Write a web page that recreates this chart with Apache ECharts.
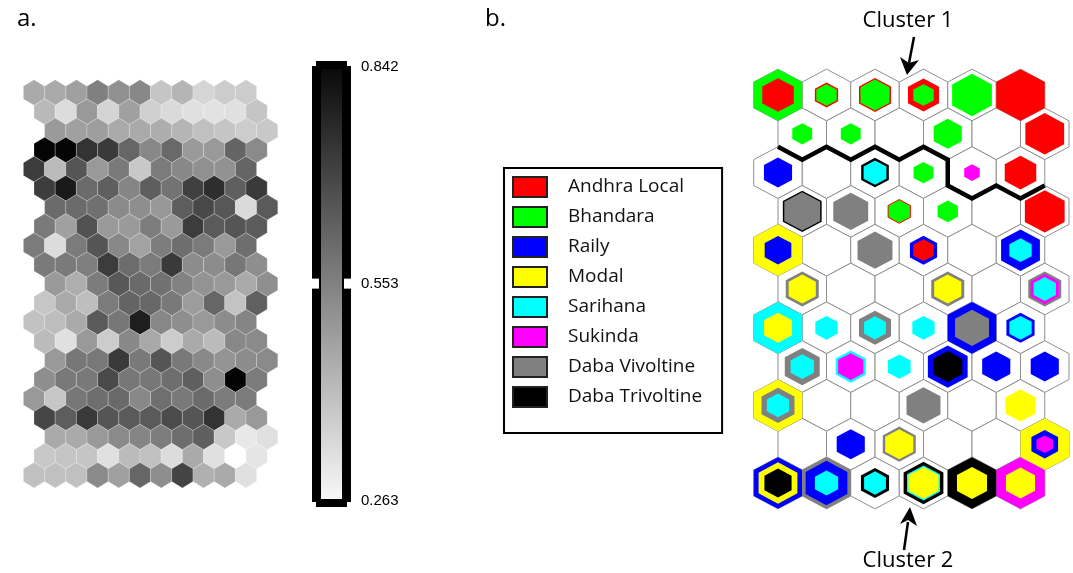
<!DOCTYPE html>
<html><head><meta charset="utf-8">
<script src="https://cdn.jsdelivr.net/npm/echarts@6/dist/echarts.min.js"></script>
<style>html,body{margin:0;padding:0;background:#fff}#c{width:1073px;height:573px}</style>
</head><body><div id="c"></div>
<script>
// ---------- a. U-matrix (21 rows x 11 columns) ----------
const uMin = 0.263, uMax = 0.842;
const colorbarTicks = [0.263, 0.553, 0.842];
const uRow00 = [0.456,0.456,0.479,0.551,0.513,0.533,0.395,0.431,0.358,0.379,0.379];
const uRow01 = [0.422,0.342,0.495,0.361,0.479,0.370,0.347,0.333,0.329,0.333,0.395];
const uRow02 = [0.492,0.479,0.483,0.456,0.456,0.449,0.431,0.406,0.395,0.379,0.388];
const uRow03 = [0.831,0.831,0.726,0.710,0.610,0.533,0.603,0.492,0.495,0.615,0.529];
const uRow04 = [0.706,0.417,0.649,0.495,0.565,0.388,0.563,0.533,0.515,0.510,0.613];
const uRow05 = [0.703,0.783,0.599,0.626,0.540,0.629,0.581,0.697,0.738,0.626,0.710];
const uRow06 = [0.599,0.599,0.588,0.529,0.520,0.497,0.631,0.678,0.644,0.347,0.638];
const uRow07 = [0.565,0.479,0.656,0.492,0.492,0.558,0.492,0.706,0.638,0.649,0.633];
const uRow08 = [0.563,0.342,0.563,0.649,0.533,0.474,0.558,0.592,0.563,0.495,0.592];
const uRow09 = [0.565,0.565,0.553,0.706,0.597,0.563,0.710,0.524,0.524,0.572,0.520];
const uRow10 = [0.492,0.447,0.560,0.642,0.601,0.585,0.547,0.508,0.495,0.456,0.517];
const uRow11 = [0.392,0.456,0.411,0.563,0.615,0.606,0.567,0.488,0.610,0.399,0.624];
const uRow12 = [0.401,0.413,0.456,0.638,0.572,0.774,0.535,0.520,0.495,0.524,0.540];
const uRow13 = [0.417,0.333,0.495,0.379,0.533,0.460,0.379,0.456,0.417,0.533,0.529];
const uRow14 = [0.495,0.572,0.570,0.710,0.567,0.649,0.567,0.531,0.506,0.524,0.529];
const uRow15 = [0.520,0.567,0.567,0.674,0.572,0.572,0.592,0.626,0.520,0.835,0.563];
const uRow16 = [0.495,0.392,0.572,0.592,0.603,0.533,0.590,0.567,0.599,0.563,0.563];
const uRow17 = [0.683,0.631,0.713,0.649,0.638,0.638,0.672,0.649,0.726,0.456,0.495];
const uRow18 = [0.456,0.456,0.495,0.529,0.540,0.558,0.592,0.626,0.388,0.315,0.333];
const uRow19 = [0.388,0.395,0.395,0.333,0.417,0.406,0.342,0.456,0.333,0.263,0.322];
const uRow20 = [0.406,0.406,0.406,0.529,0.479,0.610,0.520,0.688,0.442,0.456,0.333];
const uRows = [uRow00,uRow01,uRow02,uRow03,uRow04,uRow05,uRow06,uRow07,uRow08,uRow09,uRow10,
               uRow11,uRow12,uRow13,uRow14,uRow15,uRow16,uRow17,uRow18,uRow19,uRow20];
const uRowShift = [0, 0.5, 1, 0.5];

// ---------- b. hit map (11 rows x 6 columns), [row, col, relative marker size] ----------
const breeds = ['Andhra Local','Bhandara','Raily','Modal','Sarihana','Sukinda','Daba Vivoltine','Daba Trivoltine'];
const breedColors = ['#ff0000','#00ff00','#0000ff','#ffff00','#00ffff','#ff00ff','#808080','#000000'];
const andhraLocal   = [[0,0,0.65],[0,1,0.48],[0,2,0.66],[0,3,0.64],[0,5,1.0],[1,5,0.8],[2,5,0.65],[3,2,0.48],[3,5,0.82],[4,3,0.42]];
const bhandara      = [[0,0,1.0],[0,1,0.42],[0,2,0.6],[0,3,0.42],[0,4,0.82],[1,0,0.41],[1,1,0.41],[1,3,0.58],[2,3,0.41],[3,2,0.44],[3,3,0.42]];
const raily         = [[2,0,0.58],[4,0,0.55],[4,3,0.56],[4,5,0.8],[6,4,1.0],[6,5,0.58],[7,3,0.82],[7,4,0.58],[7,5,0.58],[9,1,0.58],[9,5,0.55],[10,0,1.0],[10,1,0.86]];
const modal         = [[4,0,1.0],[5,0,0.56],[5,3,0.56],[6,0,0.58],[8,0,1.0],[8,5,0.62],[9,2,0.58],[9,5,1.0],[10,0,0.8],[10,3,0.62],[10,4,0.62],[10,5,0.6]];
const sarihana      = [[2,2,0.47],[4,5,0.46],[5,5,0.46],[6,0,1.0],[6,1,0.46],[6,2,0.45],[6,3,0.46],[6,5,0.46],[7,0,0.48],[7,1,0.62],[7,2,0.47],[8,0,0.46],[10,1,0.48],[10,2,0.45],[10,3,0.68]];
const sukinda       = [[2,4,0.32],[5,5,0.58],[7,1,0.52],[9,5,0.34],[10,5,1.0]];
const dabaVivoltine = [[3,0,0.74],[3,1,0.72],[4,2,0.72],[5,0,0.68],[5,3,0.68],[5,5,0.68],[6,2,0.66],[6,4,0.7],[7,0,0.72],[8,0,0.68],[8,3,0.7],[9,2,0.68],[10,1,1.0]];
const dabaTrivoltine= [[2,2,0.57],[3,0,0.8],[7,3,0.6],[10,0,0.56],[10,2,0.58],[10,3,0.82],[10,4,1.0]];
const breedHits = [andhraLocal,bhandara,raily,modal,sarihana,sukinda,dabaVivoltine,dabaTrivoltine];
const mapRows = 11, mapCols = 6;
// cluster border: [row, col, hex vertex index] (0 top, 1 upper-right, 2 lower-right, 3 bottom)
const clusterBoundary = [[2,0,0],[2,0,1],[2,1,0],[2,1,1],[2,2,0],[2,2,1],[2,3,0],[2,3,1],[2,3,2],[2,4,3],[2,4,2],[2,5,3],[2,5,2]];

// ---------- helpers ----------
const HEX = [[0,-2/3],[0.5,-1/3],[0.5,1/3],[0,2/3],[-0.5,1/3],[-0.5,-1/3]];
function hexPts(api, cx, cy, s){ return HEX.map(o => api.coord([cx + o[0]*s, cy + o[1]*s])); }

const uData = [];
uRows.forEach((row, r) => row.forEach((v, c) => uData.push([c + uRowShift[r % 4], r, v])));

const cellData = [];
for (let r = 0; r < mapRows; r++) for (let c = 0; c < mapCols; c++) cellData.push([c + (r % 2) * 0.5, r]);

const boundaryData = clusterBoundary.map(([r, c, k]) => [c + (r % 2) * 0.5 + HEX[k][0], r + HEX[k][1]]);

const FONT = 'Open Sans';
const series = [];
series.push({
  name: 'U-matrix', type: 'custom', xAxisIndex: 0, yAxisIndex: 0, data: uData, silent: true,
  renderItem(params, api){
    return {type:'polygon', shape:{points: hexPts(api, api.value(0), api.value(1), 1)},
      style:{fill: api.visual('color'), stroke:'rgba(255,255,255,0.28)', lineWidth:0.8}};
  }
});
series.push({
  name: 'colorbar', type: 'custom', xAxisIndex: 1, yAxisIndex: 1, data: [[0, uMin, uMax, colorbarTicks[1]]], silent: true,
  renderItem(params, api){
    const a = api.coord([0, uMax]), b = api.coord([1, uMin]), m = api.coord([0, api.value(3)]);
    const x0 = a[0], x1 = b[0], y0 = a[1], y1 = b[1], ym = m[1];
    return {type:'group', children:[
      {type:'rect', shape:{x:x0-5, y:y0-6, width:x1-x0+10, height:y1-y0+12}, style:{fill:'#000'}},
      {type:'rect', shape:{x:x0-9, y:y0-1, width:x1-x0+18, height:y1-y0+2}, style:{fill:'#000'}},
      {type:'rect', shape:{x:x0-10, y:ym-5, width:8, height:10}, style:{fill:'#fff'}},
      {type:'rect', shape:{x:x1+2, y:ym-5, width:8, height:10}, style:{fill:'#fff'}},
      {type:'rect', shape:{x:x0, y:y0+2, width:x1-x0, height:y1-y0-4},
        style:{fill: new echarts.graphic.LinearGradient(0,0,0,1,[{offset:0,color:'#0a0a0a'},{offset:1,color:'#f8f8f8'}])}}
    ]};
  }
});
series.push({
  name: 'cells', type: 'custom', xAxisIndex: 2, yAxisIndex: 2, data: cellData, silent: true, z: 1,
  renderItem(params, api){
    return {type:'polygon', shape:{points: hexPts(api, api.value(0), api.value(1), 1)},
      style:{fill:'#fff', stroke:'#8f8f8f', lineWidth:1}};
  }
});
breeds.forEach((name, i) => {
  series.push({
    name, type: 'custom', xAxisIndex: 2, yAxisIndex: 2, z: 2, silent: true,
    itemStyle: {color: breedColors[i]},
    data: breedHits[i].map(([r, c, s]) => [c + (r % 2) * 0.5, r, s]),
    renderItem(params, api){
      const s = api.value(2);
      return {type:'polygon', z2: Math.round((2 - s) * 100),
        shape:{points: hexPts(api, api.value(0), api.value(1), s)},
        style:{fill: breedColors[i]}};
    }
  });
});
series.push({
  name: 'cluster border', type: 'line', xAxisIndex: 2, yAxisIndex: 2, data: boundaryData, z: 3,
  symbol: 'none', silent: true, lineStyle: {color:'#000', width:4.5, join:'miter'}, animation:false
});

const hiddenAxis = (o) => Object.assign({type:'value', show:false, splitLine:{show:false}}, o);

const option = {
  animation: false,
  backgroundColor: '#fff',
  grid: [
    {left: 23.4, top: 73.4, width: 254.4, height: 420.9},
    {left: 321, top: 67, width: 21, height: 434},
    {left: 753.75, top: 56.2, width: 315.25, height: 465.6}
  ],
  xAxis: [
    hiddenAxis({gridIndex:0, min:-0.5, max:11.5}),
    hiddenAxis({gridIndex:1, min:0, max:1}),
    hiddenAxis({gridIndex:2, min:-0.5, max:6})
  ],
  yAxis: [
    hiddenAxis({gridIndex:0, min:-1, max:21, inverse:true}),
    {type:'value', gridIndex:1, min:uMin, max:uMax, position:'right',
      axisLine:{show:false}, axisTick:{show:false}, splitLine:{show:false},
      axisLabel:{customValues: colorbarTicks, margin: 19, color:'#000', fontSize:15,
        fontFamily:'Liberation Sans', formatter: v => v.toFixed(3)}},
    hiddenAxis({gridIndex:2, min:-1, max:11, inverse:true})
  ],
  visualMap: {type:'continuous', show:false, seriesIndex:0, dimension:2, min:uMin, max:uMax,
    inRange:{color:['#ffffff','#000000']}},
  legend: {
    orient:'vertical', left:504, top:168, itemWidth:34, itemHeight:20, itemGap:8,
    padding:[8,20,25,8], borderColor:'#000', borderWidth:2, selectedMode:false,
    textStyle:{fontFamily:FONT, fontSize:19, color:'#111', lineHeight:20, padding:[0,0,0,16]},
    data: breeds.map((n, i) => ({name:n, icon:'rect',
      itemStyle:{color:breedColors[i], borderColor:'#222', borderWidth:2}}))
  },
  graphic: [
    {type:'text', style:{x:17, y:19, text:'a.', fontFamily:FONT, fontSize:24, fill:'#000', verticalAlign:'middle'}},
    {type:'text', style:{x:485, y:19, text:'b.', fontFamily:FONT, fontSize:24, fill:'#000', verticalAlign:'middle'}},
    {type:'text', style:{x:908, y:21, text:'Cluster 1', fontFamily:FONT, fontSize:22, fill:'#000', align:'center', verticalAlign:'middle'}},
    {type:'text', style:{x:908, y:561, text:'Cluster 2', fontFamily:FONT, fontSize:22, fill:'#000', align:'center', verticalAlign:'middle'}},
    {type:'line', shape:{x1:914, y1:37, x2:909, y2:63}, style:{stroke:'#000', lineWidth:2.5}},
    {type:'polygon', shape:{points:[[907,75],[900,57],[909,63],[919,60]]}, style:{fill:'#000'}},
    {type:'line', shape:{x1:904, y1:550, x2:908, y2:522}, style:{stroke:'#000', lineWidth:2.5}},
    {type:'polygon', shape:{points:[[910,507],[917,526],[908,520],[900,524]]}, style:{fill:'#000'}}
  ],
  series
};
const chart = echarts.init(document.getElementById('c'), null, {renderer:'canvas'});
chart.setOption(option);
</script>
</body></html>
